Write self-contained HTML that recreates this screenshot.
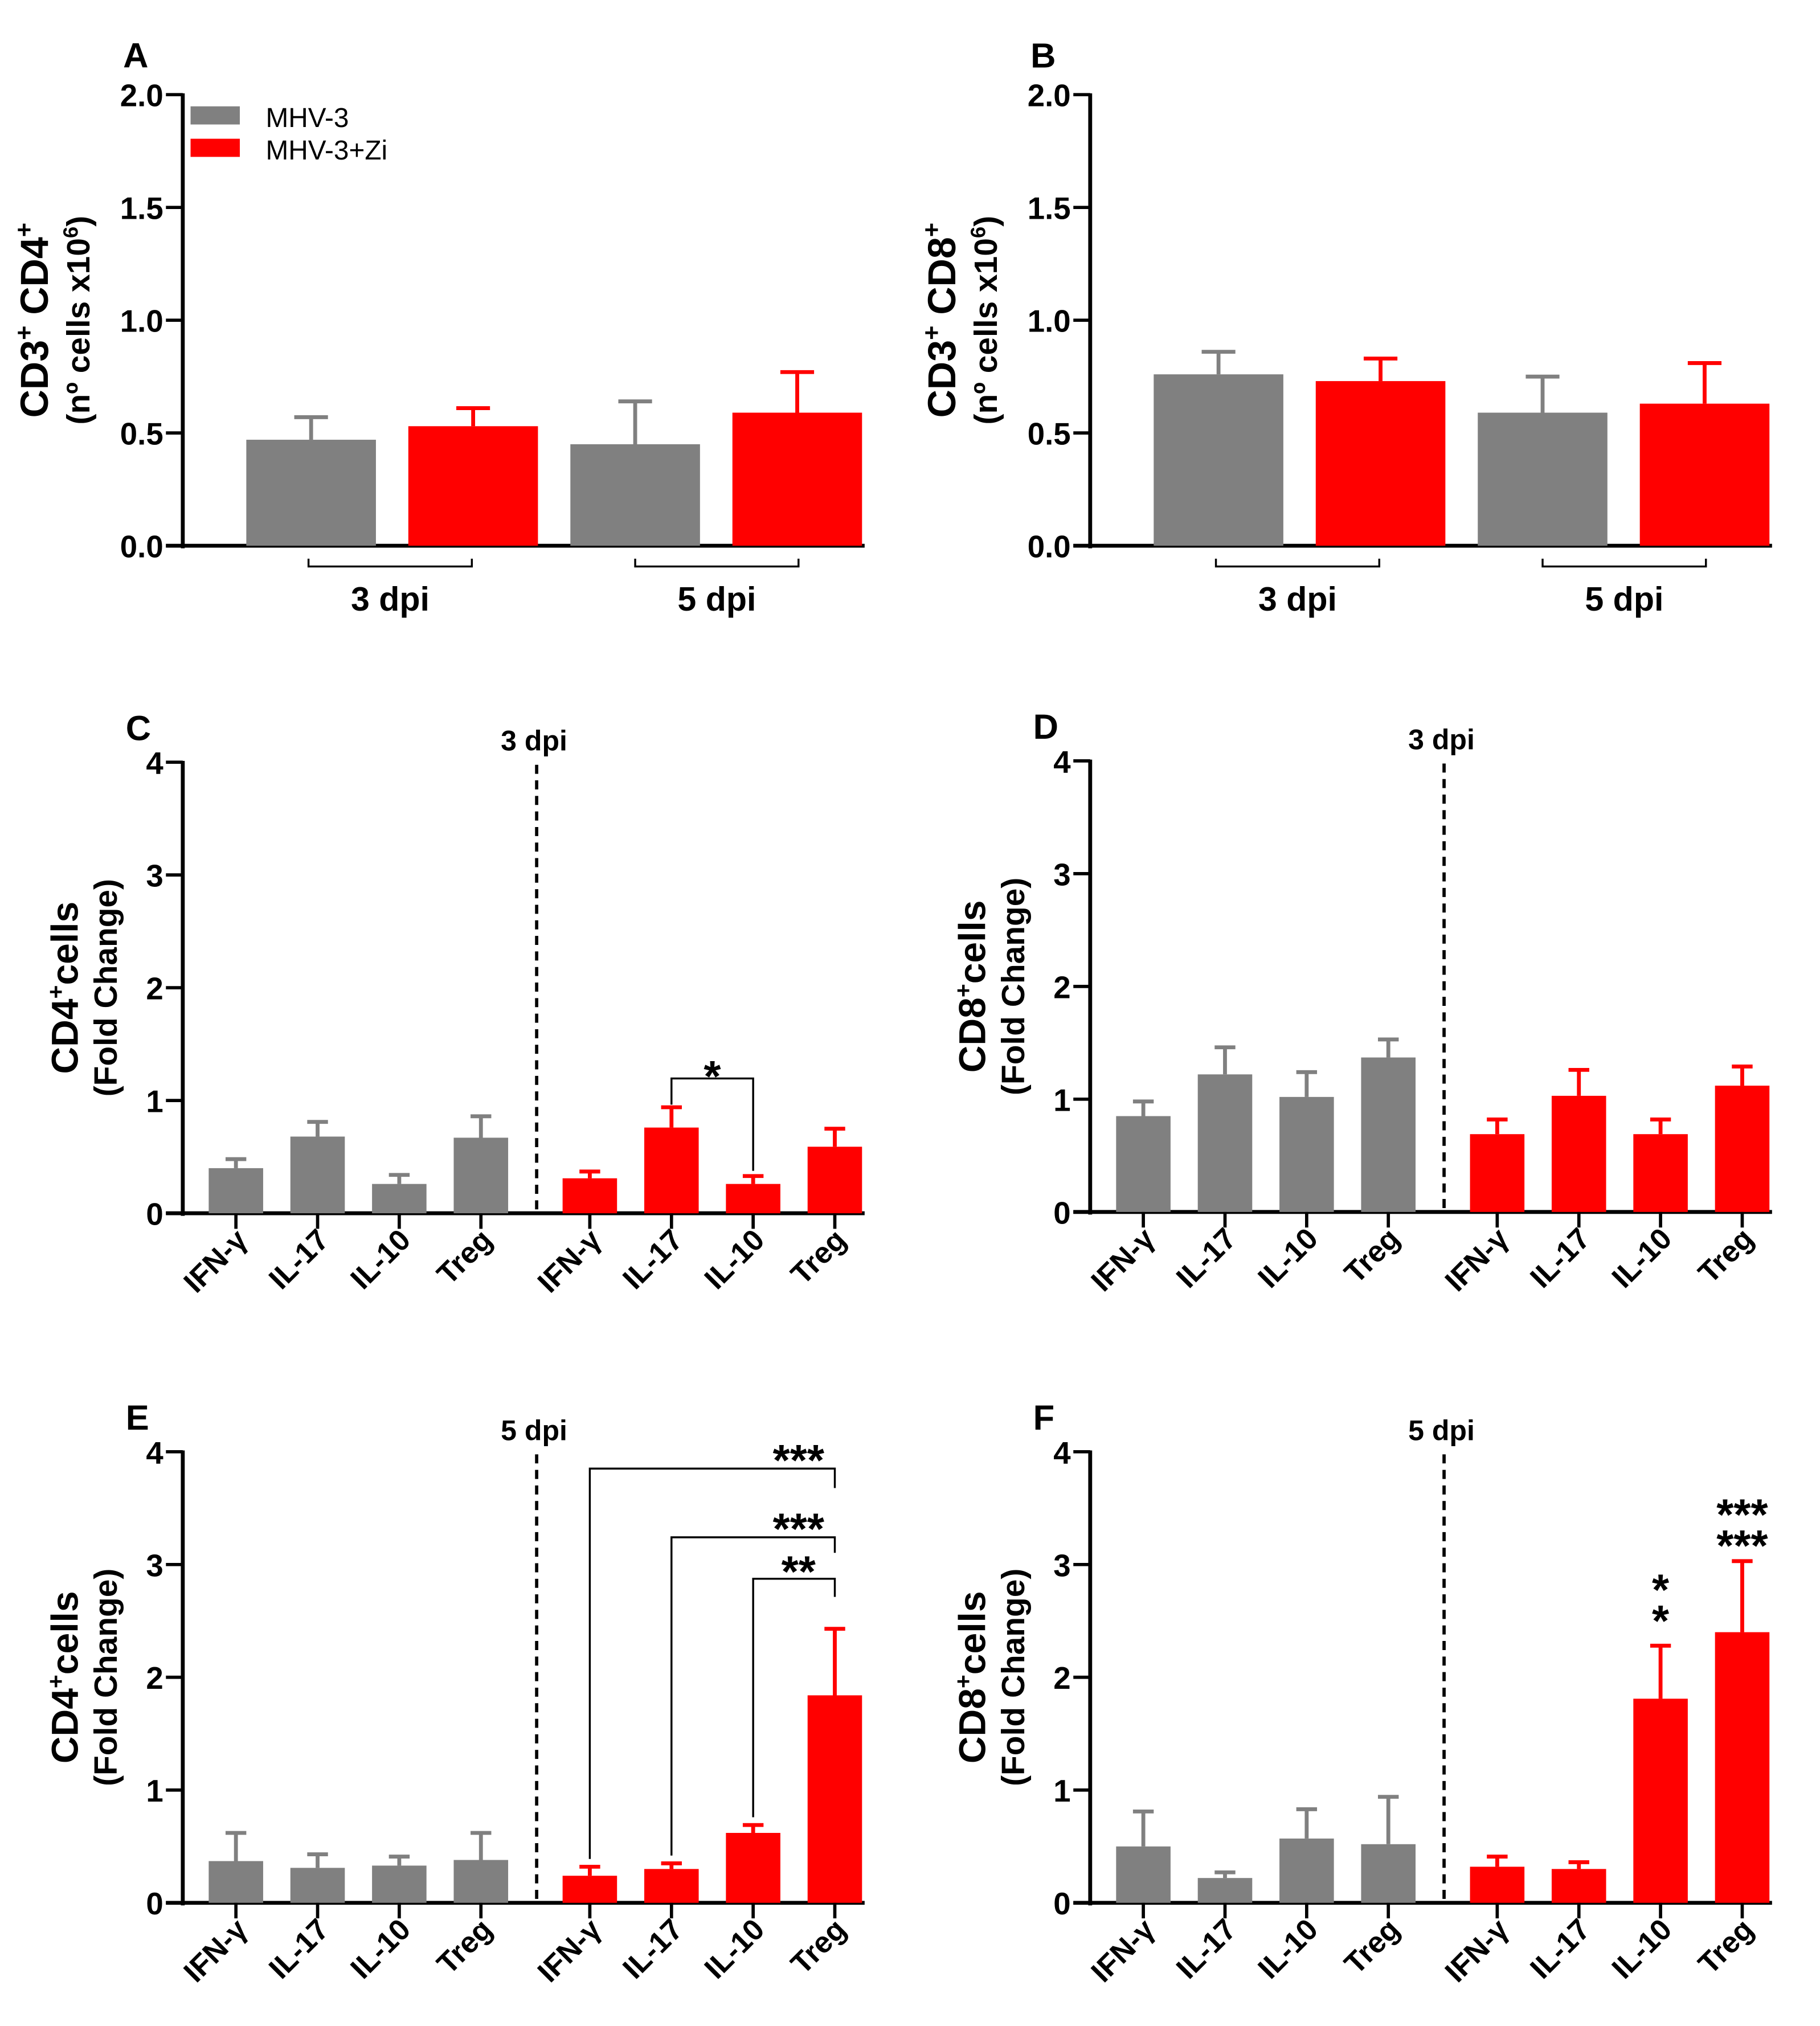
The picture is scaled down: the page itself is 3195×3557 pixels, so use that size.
<!DOCTYPE html>
<html><head><meta charset="utf-8"><style>
html,body{margin:0;padding:0;background:#fff}
svg{display:block}
text{font-family:"Liberation Sans",Arial,sans-serif}
</style></head><body>
<svg id="fig" width="3195" height="3557" viewBox="0 0 1404 1563" xmlns="http://www.w3.org/2000/svg">
<g>
<rect x="147" y="82" width="38" height="14" fill="#808080"/>
<rect x="147" y="107" width="38" height="14" fill="#ff0000"/>
<text x="205" y="98" font-size="21">MHV-3</text>
<text x="205" y="123" font-size="21">MHV-3+Zi</text>
</g>
</svg>
<script>
const NS="http://www.w3.org/2000/svg";
const svg=document.getElementById('fig');
// Panel A/B data
const abColors=["#808080","#ff0000","#808080","#ff0000"];
const aValues=[0.47,0.53,0.45,0.59];
const aErrors=[0.57,0.61,0.64,0.77];
const bValues=[0.76,0.73,0.59,0.63];
const bErrors=[0.86,0.83,0.75,0.81];
const abTicks=[0,0.5,1.0,1.5,2.0];
const abGroups=["3 dpi","5 dpi"];
// Panel C-F data
const cytoCategories=["IFN-γ","IL-17","IL-10","Treg","IFN-γ","IL-17","IL-10","Treg"];
const cValues=[0.40,0.68,0.26,0.67,0.31,0.76,0.26,0.59];
const cErrors=[0.48,0.81,0.34,0.86,0.37,0.94,0.33,0.75];
const dValues=[0.85,1.22,1.02,1.37,0.69,1.03,0.69,1.12];
const dErrors=[0.98,1.46,1.24,1.53,0.82,1.26,0.82,1.29];
const eValues=[0.37,0.31,0.33,0.38,0.24,0.30,0.62,1.84];
const eErrors=[0.62,0.43,0.41,0.62,0.32,0.35,0.69,2.43];
const fValues=[0.50,0.22,0.57,0.52,0.32,0.30,1.81,2.40];
const fErrors=[0.81,0.27,0.83,0.94,0.41,0.36,2.28,3.03];
const cfTicks=[0,1,2,3,4];

function el(tag,attrs,parent){const e=document.createElementNS(NS,tag);for(const k in attrs)e.setAttribute(k,attrs[k]);(parent||svg).appendChild(e);return e;}
function txt(s,attrs,parent){const t=el('text',attrs,parent);t.textContent=s;return t;}

function axisY(g,ax,y0,y1,ticks,max,fmt){
  const sy=v=>y0-(v/max)*(y0-y1);
  const l=el('line',{x1:ax,y1:y1-1,x2:ax,y2:y0+2,stroke:'#000','stroke-width':3},g);
  
  
  ticks.forEach(t=>{
    el('line',{x1:ax-13,y1:sy(t),x2:ax,y2:sy(t),stroke:'#000','stroke-width':2.5},g);
    const lb=txt(fmt(t),{x:ax-15,y:sy(t)+9,'font-size':24,'font-weight':'bold','text-anchor':'end'},g);
    
    
  });
  return sy;
}

function panelAB(id,letter,ax,values,errors,yl1,yl2){
  const g=el('g',{});
  
  
  const y0=421,y1=73;
  const L=txt(letter,{x:ax-46,y:52,'font-size':27,'font-weight':'bold'},g);
  
  
  const sy=axisY(g,ax,y0,y1,abTicks,2.0,v=>v.toFixed(1));
  const xa=el('line',{x1:ax-13,y1:y0,x2:ax+526,y2:y0,stroke:'#000','stroke-width':3},g);
  
  
  values.forEach((v,i)=>{
    const x=ax+49+i*125, w=100, c=abColors[i];
    const ex=x+w/2;
    el('line',{x1:ex,y1:sy(v),x2:ex,y2:sy(errors[i]),stroke:c,'stroke-width':3},g);
    el('line',{x1:ex-13,y1:sy(errors[i]),x2:ex+13,y2:sy(errors[i]),stroke:c,'stroke-width':3},g);
    const b=el('rect',{x:x,y:sy(v),width:w,height:y0-sy(v),fill:c},g);
    
    
  });
  abGroups.forEach((s,i)=>{
    const xs=ax+97+i*252, xe=xs+126;
    el('polyline',{points:`${xs},431 ${xs},437 ${xe},437 ${xe},431`,fill:'none',stroke:'#000','stroke-width':1.5},g);
    const t=txt(s,{x:(xs+xe)/2,y:471,'font-size':26,'font-weight':'bold','text-anchor':'middle'},g);
    
    
  });
  const t1=txt('',{transform:`translate(${ax-104},247) rotate(-90)`,'font-size':30,'font-weight':'bold','text-anchor':'middle'},g);
  t1.innerHTML=yl1;
  
  
  const t2=txt('',{transform:`translate(${ax-72},247) rotate(-90)`,'font-size':25,'font-weight':'bold','text-anchor':'middle'},g);
  t2.innerHTML=yl2;
  
  
}

function panelCF(id,letter,ax,y0,values,errors,dpi,yl){
  const g=el('g',{});
  
  
  const y1=y0-348;
  const L=txt(letter,{x:ax-44,y:y1-17,'font-size':27,'font-weight':'bold'},g);
  
  
  const sy=axisY(g,ax,y0,y1,cfTicks,4,v=>String(v));
  const xa=el('line',{x1:ax-13,y1:y0,x2:ax+526,y2:y0,stroke:'#000','stroke-width':3},g);
  
  
  const cx=i=>ax+41+i*63+(i>=4?21:0);
  const dx=ax+273;
  const dl=el('line',{x1:dx,y1:y1+2,x2:dx,y2:y0,stroke:'#000','stroke-width':2.5,'stroke-dasharray':'7,5'},g);
  
  
  const dt=txt(dpi,{x:dx-2,y:y1-9,'font-size':22,'font-weight':'bold','text-anchor':'middle'},g);
  
  
  values.forEach((v,i)=>{
    const c=i<4?'#808080':'#ff0000', x=cx(i);
    el('line',{x1:x,y1:sy(v),x2:x,y2:sy(errors[i]),stroke:c,'stroke-width':3},g);
    el('line',{x1:x-8,y1:sy(errors[i]),x2:x+8,y2:sy(errors[i]),stroke:c,'stroke-width':3},g);
    const b=el('rect',{x:x-21,y:sy(v),width:42,height:y0-sy(v),fill:c},g);
    
    
    el('line',{x1:x,y1:y0,x2:x,y2:y0+12,stroke:'#000','stroke-width':2.5},g);
    const t=txt(cytoCategories[i],{transform:`translate(${x+10},${y0+22}) rotate(-45)`,'font-size':23,'font-weight':'bold','text-anchor':'end'},g);
    
    
  });
  const t1=txt('',{transform:`translate(${ax-81},${y0-174}) rotate(-90)`,'font-size':29,'font-weight':'bold','text-anchor':'middle'},g);
  t1.innerHTML=yl;
  
  
  const t2=txt('(Fold Change)',{transform:`translate(${ax-51},${y0-174}) rotate(-90)`,'font-size':25,'font-weight':'bold','text-anchor':'middle'},g);
  
  
  return {g,sy,cx};
}

panelAB('a','A',141,aValues,aErrors,'CD3<tspan dy="-12" font-size="19">+</tspan><tspan dy="12"> CD4</tspan><tspan dy="-12" font-size="19">+</tspan>','(nº cells x10<tspan dy="-9" font-size="16">6</tspan><tspan dy="9">)</tspan>');
panelAB('b','B',841,bValues,bErrors,'CD3<tspan dy="-12" font-size="19">+</tspan><tspan dy="12"> CD8</tspan><tspan dy="-12" font-size="19">+</tspan>','(nº cells x10<tspan dy="-9" font-size="16">6</tspan><tspan dy="9">)</tspan>');
const C=panelCF('c','C',141,936,cValues,cErrors,'3 dpi','CD4<tspan dy="-11" font-size="18">+</tspan><tspan dy="11">cells</tspan>');
panelCF('d','D',841,935,dValues,dErrors,'3 dpi','CD8<tspan dy="-11" font-size="18">+</tspan><tspan dy="11">cells</tspan>');
const E=panelCF('e','E',141,1468,eValues,eErrors,'5 dpi','CD4<tspan dy="-11" font-size="18">+</tspan><tspan dy="11">cells</tspan>');
const F=panelCF('f','F',841,1468,fValues,fErrors,'5 dpi','CD8<tspan dy="-11" font-size="18">+</tspan><tspan dy="11">cells</tspan>');

function star(p,s,x,y,name){const t=txt(s,{x:x,y:y,'font-size':34,'font-weight':'bold','text-anchor':'middle'},p.g);

}
// C significance
{const a=C.cx(5),b=C.cx(6),yt=832;
 el('polyline',{points:`${a},${C.sy(cErrors[5])-2} ${a},${yt} ${b},${yt} ${b},${C.sy(cErrors[6])-4}`,fill:'none',stroke:'#000','stroke-width':1.5},C.g);
 star(C,'*',(a+b)/2,842,'significance-star');}
// E significance
[[4,1133,1148,'***',1138],[5,1186,1198,'***',1191],[6,1218,1232,'**',1224]].forEach(([i,yt,yr,s,ys])=>{
 const a=E.cx(i),b=E.cx(7);
 el('polyline',{points:`${a},${E.sy(eErrors[i])-6} ${a},${yt} ${b},${yt} ${b},${yr}`,fill:'none',stroke:'#000','stroke-width':1.5},E.g);
 star(E,s,b-28,ys,'significance-star');
});
// F significance
star(F,'*',F.cx(6),1238,'significance-star');
star(F,'*',F.cx(6),1262,'significance-star');
star(F,'***',F.cx(7),1180,'significance-star');
star(F,'***',F.cx(7),1204,'significance-star');
</script>
</body></html>
